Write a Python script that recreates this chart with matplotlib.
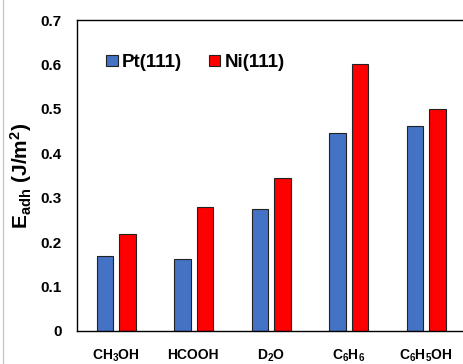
import numpy as np
import matplotlib.pyplot as plt
from matplotlib.lines import Line2D

plt.rcParams['font.family'] = ['Liberation Sans', 'DejaVu Sans']
plt.rcParams['font.weight'] = 'bold'
plt.rcParams['mathtext.fontset'] = 'custom'
plt.rcParams['mathtext.rm'] = 'Liberation Sans:bold'
plt.rcParams['mathtext.bf'] = 'Liberation Sans:bold'
plt.rcParams['mathtext.it'] = 'Liberation Sans:bold'

# data
molecules = [r"CH$_3$OH", "HCOOH", r"D$_2$O", r"C$_6$H$_6$", r"C$_6$H$_5$OH"]
pt111 = [0.169, 0.162, 0.274, 0.446, 0.462]
ni111 = [0.218, 0.280, 0.345, 0.601, 0.500]
series_names = ["Pt(111)", "Ni(111)"]
yticks = [0, 0.1, 0.2, 0.3, 0.4, 0.5, 0.6, 0.7]

fig = plt.figure(figsize=(4.63, 3.64), dpi=100)
ax = fig.add_axes([0.1663, 0.0907, 0.837, 0.854])

x = np.arange(len(molecules))
w = 0.21
ax.bar(x - 0.14, pt111, w, color="#4472C4", edgecolor="#222222", linewidth=0.8, label=series_names[0])
ax.bar(x + 0.15, ni111, w, color="#FF0000", edgecolor="#222222", linewidth=0.8, label=series_names[1])

ax.set_xlim(-0.5, 4.5)
ax.set_ylim(0, 0.7)
ax.set_yticks(yticks)
ax.set_yticklabels(["0"] + [f"{v:.1f}" for v in yticks[1:]])
ax.set_xticks(x)
ax.set_xticklabels(molecules)
ax.tick_params(axis="y", length=0, labelsize=11, pad=11)
ax.tick_params(axis="x", length=0, labelsize=10, pad=12)
for lab in ax.get_xticklabels() + ax.get_yticklabels():
    lab.set_fontweight("bold")

for s in ["left", "bottom", "top"]:
    ax.spines[s].set_linewidth(1.0)
    ax.spines[s].set_color("black")
ax.spines["right"].set_visible(False)

ax.set_ylabel(r"E$_{\mathrm{adh}}$ (J/m$^2$)", fontsize=15, fontweight="bold", labelpad=5)

ax.legend(loc="upper left", bbox_to_anchor=(0.032, 0.945), ncol=2, frameon=False,
          handlelength=0.6, handleheight=0.6, handletextpad=0.25,
          columnspacing=1.4, prop={"weight": "bold", "size": 13.5})

# thin frame line at the left of the picture
fig.add_artist(Line2D([0.007, 0.007], [0, 1], transform=fig.transFigure, color="#c8c8c8", linewidth=1))

fig.savefig("out.png", dpi=100)
